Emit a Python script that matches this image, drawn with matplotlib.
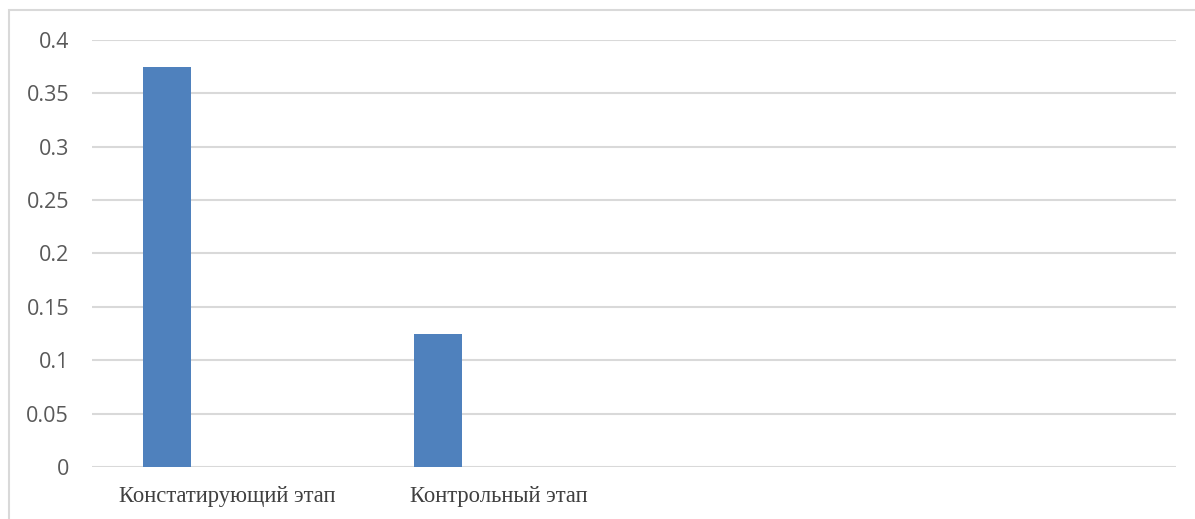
import matplotlib.pyplot as plt
from matplotlib.patches import Rectangle
import numpy as np

# data
categories = ['Констатирующий этап', 'Контрольный этап', '', '']
values = [0.375, 0.125, np.nan, np.nan]
y_ticks = [0, 0.05, 0.1, 0.15, 0.2, 0.25, 0.3, 0.35, 0.4]
y_labels = ['0', '0.05', '0.1', '0.15', '0.2', '0.25', '0.3', '0.35', '0.4']

W, H = 1195, 519
fig = plt.figure(figsize=(W / 100, H / 100), dpi=100)
fig.patches.append(Rectangle((9 / W, -0.1), 1.2, 1 - 10 / H + 0.1, transform=fig.transFigure,
                             fill=False, edgecolor='#D9D9D9', linewidth=1.5))

ax = fig.add_axes([92 / W, 1 - 467 / H, (1176 - 92) / W, (467 - 40) / H])

x = np.arange(len(categories))
# first series of a cluster sits left of the category centre
ax.bar(x - 0.223, values, width=0.177, color='#4F81BD', zorder=3)

ax.set_xlim(-0.5, len(categories) - 0.5)
ax.set_ylim(0, 0.4)
ax.set_yticks(y_ticks)
ax.set_yticklabels(y_labels, fontfamily='Open Sans', fontsize=15.5, color='#595959')
ax.set_xticks(x)
ax.set_xticklabels(categories, fontfamily='Liberation Serif', fontsize=16.3, color='#404040')
ax.tick_params(length=0)
ax.tick_params(axis='y', pad=16.5)
ax.tick_params(axis='x', pad=14)
for lbl in ax.get_xticklabels():
    lbl.set_x(lbl.get_position()[0] - 0.02)

ax.grid(axis='y', color='#D9D9D9', linewidth=1.5, zorder=0)
for s in ax.spines.values():
    s.set_visible(False)

fig.savefig('out.png', dpi=100)
